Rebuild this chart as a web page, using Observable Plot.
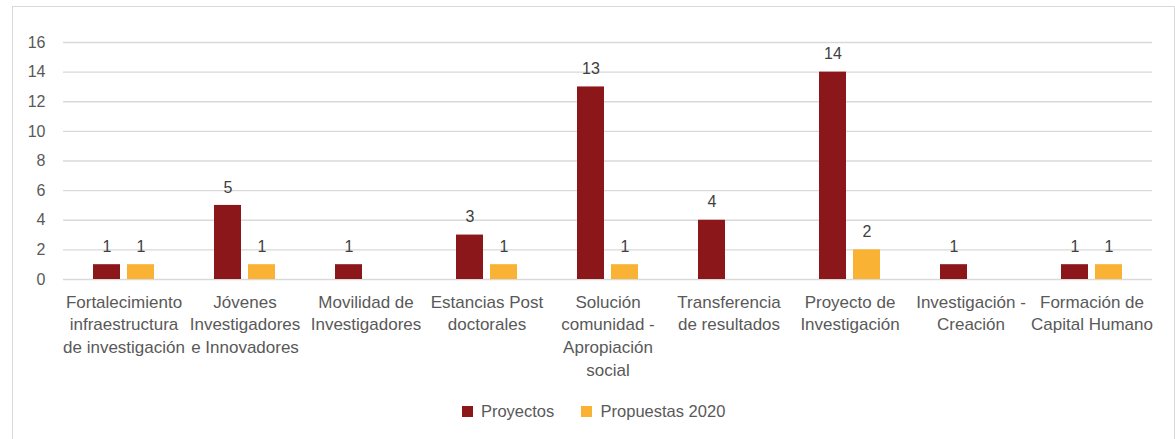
<!DOCTYPE html>
<html><head><meta charset="utf-8">
<script src="https://cdn.jsdelivr.net/npm/d3@7"></script>
<script src="https://cdn.jsdelivr.net/npm/@observablehq/plot@0.6"></script>
<style>
body{margin:0;background:#fff;font-family:"Liberation Sans",Arial,sans-serif;}
#frame{position:absolute;left:12px;top:6px;width:1161px;height:470px;border:1px solid #d9d9d9;}
#chart{position:absolute;left:0;top:0;}
#legend{position:absolute;top:395px;left:6px;width:1175px;display:flex;justify-content:center;}
.lg-swatch{margin-right:27px !important;}
.lg-swatch:last-child{margin-right:0 !important;}
</style></head><body>
<div id="frame"></div><div id="chart"></div><div id="legend"></div>
<script>
const categories = [
  "Fortalecimiento infraestructura de investigación",
  "Jóvenes Investigadores e Innovadores",
  "Movilidad de Investigadores",
  "Estancias Post doctorales",
  "Solución comunidad - Apropiación social",
  "Transferencia de resultados",
  "Proyecto de Investigación",
  "Investigación - Creación",
  "Formación de Capital Humano"
];
const tickLabels = [
  "Fortalecimiento\ninfraestructura\nde investigación",
  "Jóvenes\nInvestigadores\ne Innovadores",
  "Movilidad de\nInvestigadores",
  "Estancias Post\ndoctorales",
  "Solución\ncomunidad -\nApropiación\nsocial",
  "Transferencia\nde resultados",
  "Proyecto de\nInvestigación",
  "Investigación -\nCreación",
  "Formación de\nCapital Humano"
];
const series = ["Proyectos", "Propuestas 2020"];
const proyectos = [1, 5, 1, 3, 13, 4, 14, 1, 1];
const propuestas = [1, 1, null, 1, 1, null, 2, null, 1];
const colors = ["#8c171b", "#f9b233"];
const yTicks = [0, 2, 4, 6, 8, 10, 12, 14, 16];

const data = [];
categories.forEach((c, i) => {
  if (proyectos[i] != null) data.push({cat: c, series: series[0], value: proyectos[i]});
  if (propuestas[i] != null) data.push({cat: c, series: series[1], value: propuestas[i]});
});
const labelOf = new Map(categories.map((c, i) => [c, tickLabels[i]]));
const font = "'Liberation Sans', Arial, sans-serif";

const chart = Plot.plot({
  width: 1175, height: 395,
  marginLeft: 62, marginRight: 23, marginTop: 42, marginBottom: 116,
  style: {fontFamily: font, fontSize: "16px", color: "#595959", background: "transparent"},
  fx: {domain: categories, padding: 0, label: null},
  x: {domain: series, paddingInner: 0.214, paddingOuter: 0.836, axis: null},
  y: {domain: [0, 16], label: null},
  color: {domain: series, range: colors},
  marks: [
    Plot.gridY(yTicks, {stroke: "#d9d9d9", strokeOpacity: 1, strokeWidth: 1.3}),
    Plot.axisY(yTicks, {tickSize: 0, tickPadding: 18, fontSize: 16, label: null, fill: "#595959"}),
    Plot.axisFx({anchor: "bottom", tickSize: 0, tickPadding: 12, tickFormat: d => labelOf.get(d), lineHeight: 1.34, fontSize: 17, label: null, fill: "#595959"}),
    Plot.barY(data, {fx: "cat", x: "series", y: "value", fill: "series"}),
    Plot.text(data, {fx: "cat", x: "series", y: "value", text: d => String(d.value), dy: -18, fill: "#404040", fontSize: 16})
  ]
});
document.getElementById("chart").appendChild(chart);

const legend = Plot.legend({
  color: {domain: series, range: colors},
  legend: "swatches",
  swatchSize: 11,
  className: "lg",
  style: {fontFamily: font, fontSize: "16.5px", color: "#595959"}
});
document.getElementById("legend").appendChild(legend);
</script>
</body></html>
